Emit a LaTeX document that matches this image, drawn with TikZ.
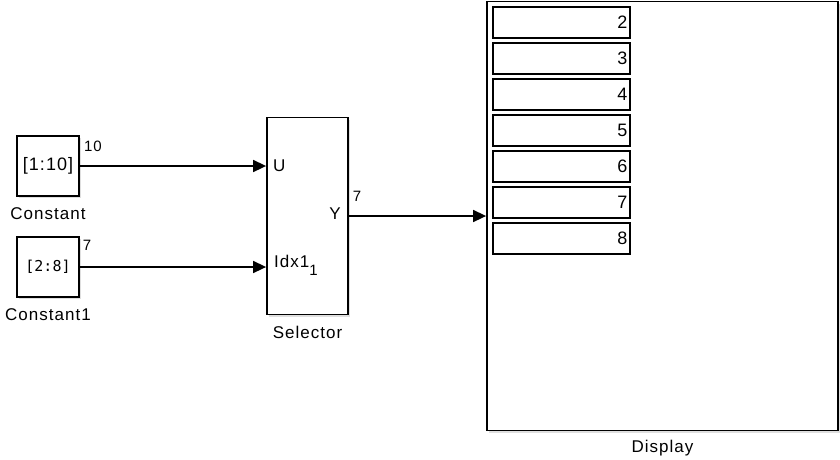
\documentclass[tikz,border=0pt]{standalone}
\usepackage{fontspec}
\setmainfont{Liberation Sans}[LetterSpace=6]
\newfontfamily\monofont{DejaVu Sans Mono}
\usetikzlibrary{arrows.meta}
\usetikzlibrary{shadows}
\usetikzlibrary{positioning}

\begin{document}
\begin{tikzpicture}[x=1pt,y=-1pt,
  blk/.style={draw, line width=1.8pt, fill=white, inner sep=0pt,
    drop shadow={shadow xshift=2pt, shadow yshift=-2pt, opacity=0.25}},
  sig/.style={line width=1.6pt, -{Triangle[length=13pt,width=12pt]}},
  txt/.style={font=\fontsize{17}{19}\selectfont, inner sep=0pt},
  dim/.style={font=\fontsize{15}{17}\selectfont, inner sep=0pt},
  cell/.style={draw, line width=1.8pt, minimum width=137pt, minimum height=31pt,
    inner sep=0pt, text width=132pt, align=right, font=\fontsize{18}{20}\selectfont}]
  \useasboundingbox (0,0) rectangle (840,459);
  % sources
  \node[blk, minimum width=62pt, minimum height=60pt, font=\fontsize{18}{20}\selectfont] (cst) at (48,166) {[1:10]};
  \node[blk, minimum width=62pt, minimum height=60pt, font=\monofont\fontsize{15}{17}\selectfont] (cstb) at (48,267) {[2:8]};
  \node[txt, below=11pt of cst] (cstlbl) {Constant};
  \node[txt, below=11pt of cstb] (cstblbl) {Constant1};
  % selector and display
  \node[blk, minimum width=81pt, minimum height=197pt] (sel) at (307.5,216) {};
  \node[txt, below=11pt of sel] (sellbl) {Selector};
  \node[blk, minimum width=351pt, minimum height=429pt] (disp) at (662.5,216) {};
  \node[txt, below=9pt of disp] (displbl) {Display};
  \foreach \v [count=\i from 0] in {2,...,8}
    \node[cell] (cell\v) at (561.5,{22.5+36*\i}) {\v};
  % ports
  \node[txt, anchor=west] (pu) at (273,166) {U};
  \node[txt, anchor=west] (pidx) at (274,265) {Idx1\raisebox{-8pt}{\fontsize{15}{17}\selectfont 1}};
  \node[txt, anchor=east] (py) at (341,214) {Y};
  % signals
  \draw[sig] (cst.east) -- (cst.east -| sel.west);
  \draw[sig] (cstb.east) -- (cstb.east -| sel.west);
  \draw[sig] (sel.east) -- (disp.west);
  \node[dim] (dima) at (93,146) {10};
  \node[dim] (dimb) at (87,245) {7};
  \node[dim] (dimc) at (357,196) {7};
\end{tikzpicture}
\end{document}
